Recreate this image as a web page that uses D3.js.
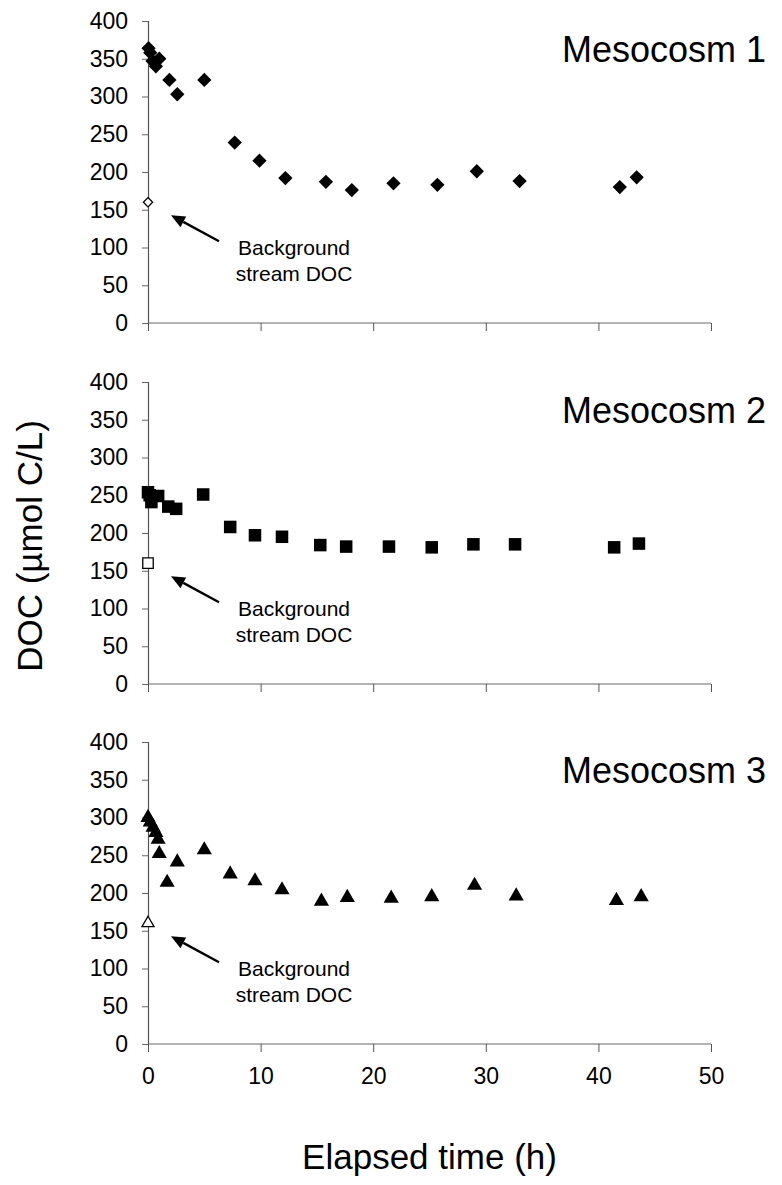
<!DOCTYPE html>
<html><head><meta charset="utf-8">
<script src="https://cdn.jsdelivr.net/npm/d3@7"></script>
<style>body{margin:0;background:#fff}svg{display:block}text{font-family:Arial,"Liberation Sans",sans-serif;fill:#000}</style>
</head><body><svg id="c" width="782" height="1185"></svg>
<script>
// ---- data ----
const xTicks = [0, 10, 20, 30, 40, 50];
const yTicks = [0, 50, 100, 150, 200, 250, 300, 350, 400];
const panelNames = ["Mesocosm 1", "Mesocosm 2", "Mesocosm 3"];
const markerTypes = ["diamond", "square", "triangle"];

const time1 = [0.05, 0.2, 0.4, 0.7, 1.0, 1.9, 2.6, 5.0, 7.7, 9.9, 12.2, 15.8, 18.1, 21.8, 25.7, 29.2, 33.0, 41.9, 43.4];
const doc1  = [364, 358, 347, 340, 350, 322, 303, 322, 239, 215, 192, 187, 176, 185, 183, 201, 188, 180, 193];

const time2 = [0.0, 0.15, 0.3, 0.9, 1.8, 2.5, 4.9, 7.3, 9.5, 11.9, 15.3, 17.6, 21.4, 25.2, 28.9, 32.6, 41.4, 43.6];
const doc2  = [254, 250, 241, 249, 235, 232, 251, 208, 197, 195, 184, 182, 182, 181, 185, 185, 181, 186];

const time3 = [0.0, 0.2, 0.45, 0.7, 0.9, 1.0, 1.7, 2.6, 5.0, 7.3, 9.5, 11.9, 15.4, 17.7, 21.6, 25.2, 29.0, 32.7, 41.6, 43.8];
const doc3  = [300, 294, 287, 280, 271, 252, 214, 241, 257, 225, 216, 204, 189, 194, 193, 195, 210, 196, 190, 195];

const bgTime = [0, 0, 0];
const bgDoc  = [160, 160, 160];

const annotLines = ["Background", "stream DOC"];
const xTitle = "Elapsed time (h)";
const yTitle = "DOC (µmol C/L)";

// ---- layout ----
const svg = d3.select("#c");
const left = 148, right = 711, ph = 302;
const tops = [21, 382, 742];
const x = d3.scaleLinear().domain([0, 50]).range([left, right]);
const series = [[time1, doc1], [time2, doc2], [time3, doc3]];

function markerPath(type, s) {
  const sym = type === "diamond" ? d3.symbolDiamond2 : type === "square" ? d3.symbolSquare2 : d3.symbolTriangle2;
  return d3.symbol().type(sym).size(s)();
}
const fillSize = { diamond: 130, square: 200, triangle: 165 };
const openSize = { diamond: 55, square: 140, triangle: 105 };

tops.forEach((top, i) => {
  const y = d3.scaleLinear().domain([0, 400]).range([top + ph, top]);
  const g = svg.append("g");

  // y axis
  const ya = g.append("g").attr("transform", `translate(${left},0)`)
    .call(d3.axisLeft(y).tickValues(yTicks).tickSize(6).tickPadding(14));
  ya.select(".domain").attr("stroke", "#555").attr("stroke-width", 1.2);
  ya.selectAll(".tick line").attr("stroke", "#666");
  ya.selectAll("text").style("font-size", "23px").attr("fill", "#000");

  // x axis
  const xa = g.append("g").attr("transform", `translate(0,${top + ph})`)
    .call(d3.axisBottom(x).tickValues(xTicks).tickSize(8).tickPadding(16));
  xa.select(".domain").attr("stroke", "#666").attr("stroke-width", 1.2).attr("d", `M${left},0H${right}`);
  xa.selectAll(".tick line").attr("stroke", "#555");
  xa.selectAll("text").style("font-size", "23px").attr("fill", "#000");
  if (i < 2) xa.selectAll("text").remove();

  // data
  const [tt, dd] = series[i];
  const mt = markerTypes[i];
  g.selectAll("path.pt").data(tt.map((t, k) => [t, dd[k]])).enter().append("path")
    .attr("class", "pt")
    .attr("d", markerPath(mt, fillSize[mt]))
    .attr("transform", d => `translate(${x(d[0])},${y(d[1])})`)
    .attr("fill", "#000");

  // background (open) marker
  g.append("path")
    .attr("d", markerPath(mt, openSize[mt]))
    .attr("transform", `translate(${x(bgTime[i])},${y(bgDoc[i])})`)
    .attr("fill", "#fff").attr("stroke", "#000").attr("stroke-width", 1.3);

  // arrow
  const tipX = x(bgTime[i]) + 23, tipY = y(bgDoc[i]) + 13;
  const tailX = x(bgTime[i]) + 71, tailY = y(bgDoc[i]) + 39;
  const ang = Math.atan2(tipY - tailY, tipX - tailX);
  const hl = 14, hw = 6;
  const bx = tipX - hl * Math.cos(ang), by = tipY - hl * Math.sin(ang);
  g.append("line").attr("x1", tailX).attr("y1", tailY).attr("x2", bx).attr("y2", by)
    .attr("stroke", "#000").attr("stroke-width", 2.3);
  g.append("path").attr("d",
    `M${tipX},${tipY}L${bx + hw * Math.sin(ang)},${by - hw * Math.cos(ang)}L${bx - hw * Math.sin(ang)},${by + hw * Math.cos(ang)}Z`)
    .attr("fill", "#000");

  // annotation text
  annotLines.forEach((t, k) => {
    g.append("text").attr("x", 294).attr("y", top + ph - 68 + k * 26)
      .attr("text-anchor", "middle").style("font-size", "21px").text(t);
  });

  // panel label
  g.append("text").attr("x", 766).attr("y", top + 41)
    .attr("text-anchor", "end").style("font-size", "36px").text(panelNames[i]);
});

svg.append("text").attr("x", (left + right) / 2).attr("y", 1169)
  .attr("text-anchor", "middle").style("font-size", "35px").text(xTitle);
svg.append("text").attr("transform", "translate(42,546) rotate(-90)")
  .attr("text-anchor", "middle").style("font-size", "35px").text(yTitle);
</script></body></html>
